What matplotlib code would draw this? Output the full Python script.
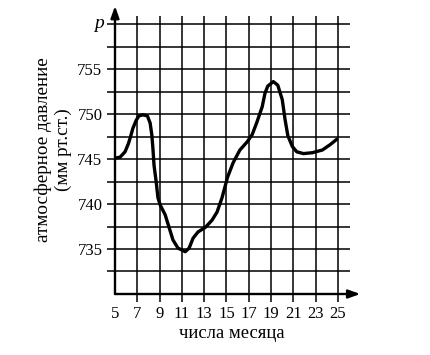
import numpy as np
import matplotlib
matplotlib.use("Agg")
import matplotlib.pyplot as plt

# values
days = [5.0, 5.45, 5.9, 6.2, 6.4, 6.6, 6.9, 7.15, 7.5, 7.9, 8.15, 8.3, 8.4,
        8.5, 8.7, 8.85, 9.05, 9.5, 9.85, 10.2, 10.65, 11.3, 11.65, 12.0, 12.45,
        13.1, 13.7, 14.15, 14.6, 15.1, 15.6, 16.2, 16.85, 17.3, 17.7, 18.2,
        18.45, 18.7, 19.2, 19.6, 20.0, 20.25, 20.5, 20.9, 21.3, 21.9, 22.7,
        23.6, 24.3, 24.9]
pressure = [745.1, 745.2, 745.8, 746.7, 747.5, 748.4, 749.3, 749.8, 749.9,
            749.8, 749.0, 747.7, 746.2, 744.3, 742.4, 740.7, 739.9, 738.8,
            737.4, 736.0, 735.1, 734.7, 735.1, 736.2, 736.9, 737.4, 738.2,
            739.1, 740.7, 743.0, 744.6, 746.0, 746.9, 747.7, 749.0, 750.8,
            752.3, 753.1, 753.6, 753.2, 751.6, 749.4, 747.6, 746.4, 745.8,
            745.6, 745.7, 746.0, 746.6, 747.2]

x_ticks = [5, 7, 9, 11, 13, 15, 17, 19, 21, 23, 25]
y_ticks = [735, 740, 745, 750, 755]
grid_y = [732.5, 735, 737.5, 740, 742.5, 745, 747.5, 750, 752.5, 755, 757.5, 760]

serif = "Liberation Serif"

fig = plt.figure(figsize=(4.3, 3.55), dpi=100)
ax = fig.add_axes([115 / 430, 61 / 355, 245 / 430, 286 / 355])
ax.set_xlim(5, 5 + 245 / 11.15)
ax.set_ylim(730, 730 + 286 / 9.0)
for s in ax.spines.values():
    s.set_visible(False)

# grid
ax.hlines(grid_y, 4.3, 26.1, color="black", lw=1.1, clip_on=False)
ax.vlines(x_ticks[1:], 729.1, 760.9, color="black", lw=1.1, clip_on=False)

# axes with arrows
arrow = dict(arrowstyle="-|>,head_width=0.25,head_length=0.7",
             color="black", lw=1.7, shrinkA=0, shrinkB=0)
ax.annotate("", xy=(5, 762), xytext=(5, 730), arrowprops=arrow,
            annotation_clip=False)
ax.annotate("", xy=(27, 730), xytext=(5, 730), arrowprops=arrow,
            annotation_clip=False)

ax.plot(days, pressure, color="black", lw=2.4, solid_capstyle="round",
        solid_joinstyle="round")

ax.set_xticks(x_ticks)
ax.set_yticks(y_ticks)
ax.tick_params(length=0, labelsize=12)
ax.tick_params(axis="x", pad=9)
ax.tick_params(axis="y", pad=9)
for lab in ax.get_xticklabels() + ax.get_yticklabels():
    lab.set_fontfamily(serif)

ax.text(4.0, 760, "p", fontsize=14, style="italic", fontfamily=serif,
        ha="right", va="center")

fig.text(43 / 430, 1 - 150 / 355, "атмосферное давление", rotation=90,
         fontsize=13.8, fontfamily=serif, ha="center", va="center")
fig.text(63 / 430, 1 - 150 / 355, "(мм рт.ст.)", rotation=90,
         fontsize=13.8, fontfamily=serif, ha="center", va="center")
fig.text(232 / 430, 1 - 333 / 355, "числа месяца", fontsize=13.4,
         fontfamily=serif, ha="center", va="center")

fig.savefig("out.png", dpi=100, facecolor="white")
